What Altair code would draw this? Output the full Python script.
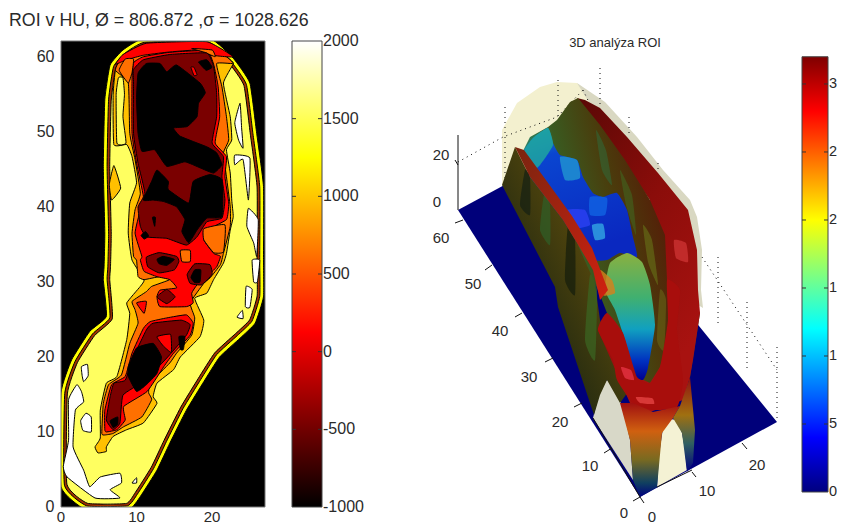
import altair as alt
import numpy as np
import pandas as pd

FONT = "Liberation Sans"
INK = "#2a2a2a"
PALE, AMBER, ORANGE, RED, DARK, BLACK, WHITE = "#ffff60", "#ffc000", "#ff7000", "#ff0000", "#7a0000", "#000000", "#ffffff"

title_left = "ROI v HU, \u00d8 = 806.872 ,\u03c3 = 1028.626"
title_right = "3D anal\u00fdza ROI"
x_tick_values = [0, 10, 20]
y_tick_values = [0, 10, 20, 30, 40, 50, 60]

# ---- contour regions, in axis units (x, y)
silhouette = [(0,2.7),(0,15.2),(1.4,19.6),(3.8,23.4),(6,25.4),(5.6,30.3),(5.7,32),(5.8,36.5),(5.6,45.4),(5.8,54.3),(6.5,58.9),(8.2,60.9),(10.9,62.4),(19.7,62.4),(22.8,59.8),(25,56.5),(25.9,49.8),(26.8,42.7),(26.8,33),(26.8,28),(25.7,24.5),(23.7,22.5),(21,20),(18.9,16.7),(16.6,12.9),(14.4,8.5),(12.7,4.9),(10.5,1.4),(9,-0.3),(3.2,-0.3)]
amber_main = [(4.5,8),(5.2,9.2),(5.2,12.9),(6,16.5),(7.4,17.4),(8.7,22.3),(9.1,25.8),(8.7,27.2),(10.5,29.4),(11,30.3),(9.4,32.9),(8.9,36.5),(9.1,40.5),(10,43.2),(9.4,46.7),(8.7,48.3),(7,48.3),(6.9,55),(7.2,58.2),(8,59.9),(10.5,61.2),(19.3,61.4),(21.9,60),(22.8,59.1),(21.5,56.5),(22.4,52),(22.6,48.9),(21.9,47.6),(22.4,44.5),(22.6,40.9),(22.8,38.7),(22.4,36.9),(21.9,33.8),(21.5,32.5),(20.2,30.3),(19.3,28.5),(17.7,27.8),(18.9,24.9),(18.4,22.7),(15.8,20),(14.9,18.3),(12.7,16.5),(12.2,14.7),(12.7,13.8),(10.9,11.2),(8.7,10.3),(6.9,9.4),(6,8),(6,7.4),(4.9,7.2)]
pale_finger = [(7.4,48.5),(8.6,48.5),(8.2,52),(8.4,55),(8.2,57.2),(7.6,57.2),(7.3,55)]
amber_sliver = [(7,45.5),(7.9,42.5),(6.7,40.9),(6.4,43)]
orange_main = [(5.4,9.8),(5.6,13.8),(6.3,16.3),(8,17.6),(9.1,21.8),(10.2,24.5),(9.8,26.3),(9.4,27.4),(11.3,28.7),(12,29.4),(14.4,30.3),(13.1,30.7),(11,30.3),(10.2,30.7),(10,32.9),(9.6,33.4),(9.4,36.5),(9.8,39.6),(10.5,41.8),(9.8,46.3),(9.1,49.8),(8.9,56.5),(7.2,58.2),(8,59.9),(10.5,61.2),(14.9,61.6),(19.3,61.4),(21.9,60),(22.8,59.1),(20.6,59.1),(21.3,56),(21.9,52),(22.2,48.9),(21.5,47.2),(21.9,44),(22.4,40),(22.4,37.4),(21.5,33.8),(21.1,32.3),(19.7,30.5),(18.9,29.8),(17.1,27.2),(17.7,25.2),(17.3,22.9),(15.3,20.5),(14.4,19.2),(11.8,16.5),(11.6,15.2),(12,14.3),(10.7,12),(8.3,10.7),(6.9,9.8),(5.8,9.6)]
red_lower = [(5.8,10.3),(5.8,12.9),(6.7,16.3),(8.5,17.4),(9.4,20.5),(10.9,23.8),(11.8,24.7),(14,25.2),(16.6,25.6),(17.5,24.5),(17.1,22.9),(14.9,20.5),(13.6,18.7),(11.4,15.4),(8.3,13.4),(8.5,11.6),(7.4,10.3),(6,10)]
red_upper = [(12.7,28),(13.1,28.9),(15.3,29.2),(14.4,30.3),(12.7,30.7),(11,31.4),(10.5,32.9),(10.7,33.4),(9.8,36.5),(10.5,39.6),(10.9,41.4),(10,45.8),(9.4,49.8),(9.4,56.9),(9.6,59.2),(10.9,60),(14.4,60.6),(19.3,60.8),(20.2,59),(20.8,56),(21,52),(20.4,48.5),(21.9,46.7),(21.7,44),(22.2,40.5),(21.9,38.3),(19.3,36.9),(18.9,35.6),(20.2,33.8),(21.1,33.4),(20.6,32),(19.3,30.7),(18,29.6),(17.3,28.5),(17.5,27.2),(16.6,26.7),(13.1,26.7)]
red_cap = [(7.2,59),(8.2,60.3),(11.3,61.8),(19.3,62),(22.8,60),(20,60.2),(18,60.9),(14,60.6),(10.9,60.2),(9.4,59.8),(8.2,59.4)]
orange_cap_left = [(7.7,58.2),(8.5,59.7),(9.6,59.7),(9.4,57.9),(8.9,56.5)]
orange_cap_right = [(17.3,61.1),(20,60.9),(20.4,60),(19,60.6)]
orange_mid = [(15.8,34.2),(17.1,34.2),(17.1,32.7),(16,32.7)]
orange_right = [(18.9,37.1),(21.7,37.6),(21.5,34),(20.2,33.9),(18.9,35.6)]
dark_upper = [(9.6,58.3),(10.9,59.6),(14.4,60.3),(19.3,60.5),(20.2,58.7),(20.6,55.2),(20.6,52),(20,48.5),(21.5,46.7),(21.3,44),(21.7,40.9),(21.3,38.5),(19.3,38),(18,36),(16.6,34.9),(14,35.8),(11.3,36),(10.5,37.4),(10.2,40),(11.1,41.8),(10.2,45.8),(9.6,49.8),(9.6,56.5)]
black_top = [(10.2,57.8),(11.3,59.1),(13.1,59.1),(14,58),(15.3,58.9),(18.4,56.5),(19.1,55.2),(18.2,53.8),(18,52),(16.7,50.7),(14.9,50.5),(15.8,49.4),(19.3,48),(20.6,47.2),(21.3,45.6),(20.2,44.5),(18.4,45.2),(16.4,46),(14,45.4),(12.4,47.6),(10.7,47.4),(10.2,49.8),(10,54.3)]
black_mid = [(10.9,40.9),(12,43.4),(12.7,44.9),(14.2,43.4),(14.2,42.3),(16.9,40.5),(17.5,43.4),(19.7,44.3),(21.3,43.6),(21.3,38.7),(19.3,38.5),(18,36.9),(16.9,35.2),(16,36.7),(16.4,38.3),(15.3,40),(13.6,40.7),(12.2,40.9)]
black_dots = [[(18.2,59.3),(19.3,59.6),(20,58.6),(19.2,58.2)],[(10.6,36.2),(11.2,36.7),(11.6,36.1),(11,35.7)],[(12.1,38.6),(12.5,38.6),(12.4,37.4)]]
red_dot = [(17.2,58.6),(17.6,58.6),(18,57.6),(17.6,57.5)]
dark_blob_a = [(11.3,33.3),(13,33.9),(15.3,33.4),(15.6,32.7),(15,31.6),(13,31.2),(11.5,32)]
black_blob_a = [(12.7,33),(13.5,33.4),(15,33),(14,32.2),(13,32.4)]
dark_blob_b = [(17.1,29.8),(16.7,31),(17.7,32.4),(19.7,32.3),(20,31),(18.6,29.6)]
black_blob_b = [(17.2,30.6),(17.7,31.6),(18.5,31.6),(18.4,30),(17.7,29.9)]
dark_diamond = [(12.7,28),(14,29),(15.1,28),(14,27.1)]
red_patch = [(10,27.2),(11.3,27.4),(11,25.8)]
dark_lower = [(6.5,14.7),(7,16.5),(8.5,16.9),(9.6,20),(11.3,23.6),(12.2,24.5),(15.9,24.9),(17.1,24.3),(16.6,22.9),(14.4,20.3),(13.1,18.9),(10.9,16.7),(8.2,14.9),(7.8,11.2),(6.9,10.3),(6,11.6)]
red_in_dark = [(12.7,22.7),(14.5,23),(14.6,20.6),(13.5,21.5)]
black_big = [(8.9,18.7),(10,21.2),(12.2,21.8),(13.3,20),(12.7,17.8),(11.3,16.3),(10,15.4),(8.9,17.4)]
black_small = [(15.6,22.7),(16.4,22.7),(16.2,21),(15.8,21)]
black_lobe = [(6.5,11.5),(7.5,12),(7.5,11),(6.9,10.6)]
white_islands = [
    [(0.3,5.4),(1,8.9),(1,14.3),(2.1,16.3),(2.7,15.4),(3,14),(1.9,12.9),(1.6,8),(3,4.9),(3.8,2.7),(5.2,4),(7.8,4.5),(8,3.2),(6.5,2.3),(7.8,1.2),(4.5,1.2),(0.8,4)],
    [(2.7,18.7),(3.5,19),(3.6,17.5),(3,16.7),(2.8,17.5)],
    [(2.6,11.5),(3.3,12.5),(4,12),(4,10),(2.9,10.2)],
    [(9.4,3.2),(10,3.9),(10,3.2)],
    [(24.4,26.7),(25,26.6),(25.3,29),(24.5,29.4)],
    [(23.3,25.3),(24,26.2),(24.1,25.1)],
    [(23.7,53.8),(23,51.2),(23.5,48.9),(24.1,47.8),(23.9,50.6)],
    [(23,46.9),(25,46.5),(24.8,40.9),(24.1,46.3),(23,45.6)],
    [(24.8,39.8),(26.1,38.3),(25.9,33.4),(25.5,35.2),(24.6,37.4)],
    [(25.3,32.9),(26.3,32.9),(26,30),(25.5,30)],
]

# ---- colour bars
hot_stops = [(0, "#000000"), (0.375, "#ff0000"), (0.75, "#ffff00"), (1, "#ffffff")]
jet_stops = [(0, "#00007f"), (0.125, "#0000ff"), (0.375, "#00ffff"), (0.625, "#ffff00"), (0.875, "#ff0000"), (1, "#7f0000")]
hu_ticks = [-1000, -500, 0, 500, 1000, 1500, 2000]
hu_labels = ["-1000", "-500", "0", "500", "1000", "1500", "2000"]
height_ticks = [0, 5, 10, 15, 20, 25, 30]
height_labels = ["0", "5", "1", "1", "2", "2", "3"]   # as much of each label as the picture shows

# ---- 3D view, read as drawn on the picture
v_cream = [(502,185),(502,130),(517,103),(540,87),(557,82),(577,83),(600,102),(620,130),(600,200),(540,200)]
v_grey = [(577,83),(605,102),(637,137),(663,170),(690,200),(697,217),(702,250),(701,290),(703,308),(690,300),(640,200),(600,120)]
v_floor = [(458,210),(560,155),(777,422),(640,497)]
v_arch_grey = [(593,418),(598,398),(603,385),(607,380),(612,384),(618,395),(624,412),(630,440),(633,480)]
v_arch_cream = [(657,487),(659,455),(663,428),(670,419),(677,420),(682,433),(685,450),(687,470)]
v_left_wall = [(502,185),(515,147),(530,177),(563,220),(577,243),(593,270),(600,320),(620,367),(633,385),(620,403),(607,380),(600,395),(594,415),(558,307),(555,287)]
v_streaks = [([(520,205),(525,170),(530,178),(530,215)], "#141f12"), ([(540,230),(544,195),(550,205),(550,245)], "#2f5f28"), ([(565,280),(568,225),(575,240),(575,295)], "#141c0c"), ([(585,340),(590,275),(597,290),(595,360)], "#3a6622")]
v_rim = [(577,98),(585,100),(600,108),(627,137),(658,173),(688,210),(697,250),(698,290),(700,313),(693,360),(690,377),(683,400),(650,412),(630,403),(598,330),(607,313),(640,300),(650,200)]
v_inner = [(522,153),(530,137),(548,127),(557,120),(570,102),(578,98),(600,125),(625,160),(650,200),(665,235),(667,280),(670,337),(660,367),(650,383),(637,377),(623,333),(607,313),(598,290),(577,243),(563,220),(530,177)]
v_inner_streaks = [([(596,130),(606,150),(612,185),(602,170)], "#2f6a3a"), ([(620,170),(632,195),(636,235),(626,205)], "#3f6a22"), ([(643,225),(652,240),(658,285),(648,262)], "#6a7a1a"), ([(660,290),(666,300),(664,350),(657,340)], "#6a6a18")]
v_pool = [(523,153),(533,138),(548,128),(553,143),(560,155),(577,160),(583,177),(593,193),(603,197),(617,193),(627,210),(633,237),(637,257),(620,253),(607,260),(593,260),(580,243),(565,220),(547,193),(530,173)]
v_patches = [([(523,153),(533,138),(548,128),(553,145),(540,165),(530,172)], "#1fa5a0"), ([(560,157),(577,160),(580,178),(565,180)], "#2090d0"), ([(590,197),(607,198),(605,215),(590,215)], "#1060e0"), ([(567,210),(585,210),(590,225),(575,228)], "#2a40f0"), ([(592,225),(603,224),(605,238),(595,240)], "#30a0e0")]
v_green = [(610,263),(627,253),(642,262),(650,285),(655,325),(648,368),(643,380),(635,375),(625,340),(615,310),(605,290)]
v_orange = [(600,270),(612,280),(615,293),(603,295)]
v_ridge = [(515,147),(530,177),(563,220),(577,243),(593,270),(600,300),(608,290),(592,248),(572,216),(543,176),(524,150)]
v_u_band = [(607,313),(598,330),(613,360),(617,380),(633,403),(653,410),(677,407),(683,380),(677,330),(680,290),(667,280),(668,320),(660,367),(650,383),(637,377),(623,333)]
v_spots = [([(674,240),(686,243),(688,262),(676,258)], "#c83030"), ([(621,367),(631,370),(634,380),(625,378)], "#e03040"), ([(636,397),(652,398),(654,404),(640,403)], "#e04040")]
v_leg = [(620,403),(633,403),(653,412),(680,406),(673,418),(662,433),(657,487),(640,497),(633,480),(630,440)]
v_strip = [(680,406),(690,377),(695,430),(693,463),(687,472),(682,433),(673,418)]
v_side = [(693,300),(700,313),(690,377),(686,360)]
v_axis_lines = [[(458,135),(458,210)], [(593,418),(640,497)], [(657,487),(692,470)], [(455,160),(458,165)],
                [(455,223),(463,220)], [(485,270),(492,265)], [(515,317),(522,313)], [(545,362),(553,358)], [(574,407),(582,403)], [(604,453),(612,448)], [(633,501),(640,497)],
                [(640,497),(644,503)], [(692,472),(696,477)], [(742,443),(747,449)]]
v_dotted = [[(458,162),(503,137),(557,117),(583,90)], [(505,107),(505,185)], [(558,80),(558,120)], [(600,68),(600,105)], [(583,90),(600,125)],
            [(629,117),(629,137)], [(658,163),(658,173)], [(702,257),(777,370)], [(718,257),(718,323)], [(747,302),(747,370)], [(777,347),(777,422)]]
v_labels = [("20",441,155),("0",437,202),("60",441,238),("50",473,284),("40",500,331),("30",529,377),("20",560,422),("10",590,466),("0",624,513),("0",652,517),("10",707,491),("20",757,465)]


def inset(points, d):
    """Move a closed outline inwards by d axis units."""
    p = np.array(points, float)
    area = 0.5 * np.sum(p[:, 0] * np.roll(p[:, 1], -1) - np.roll(p[:, 0], -1) * p[:, 1])
    sign = -1 if area < 0 else 1
    prev = p - np.roll(p, 1, axis=0)
    nxt = np.roll(p, -1, axis=0) - p
    prev /= np.linalg.norm(prev, axis=1, keepdims=True)
    nxt /= np.linalg.norm(nxt, axis=1, keepdims=True)
    tang = prev + nxt
    tang /= np.linalg.norm(tang, axis=1, keepdims=True)
    normal = np.stack([-tang[:, 1], tang[:, 0]], axis=1) * sign
    return [tuple(v) for v in p + normal * d]


def frame(points, closed=True):
    pts = list(points) + ([points[0]] if closed else [])
    return pd.DataFrame({"x": [a for a, _ in pts], "y": [b for _, b in pts], "i": range(len(pts))})


def gradient(stops, x1=0, y1=1, x2=0, y2=0):
    return alt.Gradient(gradient="linear", x1=x1, y1=y1, x2=x2, y2=y2,
                        stops=[alt.GradientStop(offset=o, color=c) for o, c in stops])


H = 485

# ---------- left contour panel
LX = alt.Scale(domain=[0, 27], nice=False, zero=False)
LY = alt.Scale(domain=[-2.532, 62.1], nice=False, zero=False)
AY = alt.Axis(values=y_tick_values, title=None, grid=False, domain=False, ticks=False, labelPadding=7, labelFont=FONT, labelFontSize=16, labelColor=INK)
PX = alt.X("x:Q", scale=LX, axis=None)
PY = alt.Y("y:Q", scale=LY, axis=AY)


def region(points, fill, width=1.0):
    return alt.Chart(frame(points, closed=False)).mark_line(fill=fill, stroke="#000000", strokeWidth=width, clip=True, interpolate="cardinal-closed", tension=0.6).encode(
        x=PX, y=PY, order="i:Q")


plot_box = alt.Chart(pd.DataFrame({"x": [0], "x2": [27], "y": [0], "y2": [62.1]})).mark_rect(fill="#000000", strokeWidth=0).encode(x=PX, x2="x2:Q", y=PY, y2="y2:Q")
mask_below = alt.Chart(pd.DataFrame({"x": [-1], "x2": [28], "y": [-2.532], "y2": [0]})).mark_rect(fill="#ffffff", strokeWidth=0, clip=True).encode(x=PX, x2="x2:Q", y=PY, y2="y2:Q")
plot_frame = alt.Chart(pd.DataFrame({"x": [0], "x2": [27], "y": [0], "y2": [62.1]})).mark_rect(fillOpacity=0, stroke="#777777", strokeWidth=1).encode(x=PX, x2="x2:Q", y=PY, y2="y2:Q")
x_labels = alt.Chart(pd.DataFrame({"x": x_tick_values, "t": [str(v) for v in x_tick_values]})).mark_text(font=FONT, fontSize=15, color=INK, baseline="top").encode(x=PX, y=alt.value(469), text="t:N")
title_mark = alt.Chart(pd.DataFrame({"t": [title_left]})).mark_text(font=FONT, fontSize=17.8, color=INK, align="left", baseline="middle").encode(x=alt.value(-52), y=alt.value(-20), text="t:N")

left_layers = [plot_box,
               region(silhouette, "#ffff00"),
               region(inset(silhouette, 0.5), "#a03000"),
               region(inset(silhouette, 0.85), PALE),
               region(amber_main, AMBER), region(pale_finger, PALE), region(amber_sliver, AMBER),
               region(orange_main, ORANGE), region(red_lower, RED), region(red_upper, RED), region(red_cap, RED),
               region(orange_cap_left, ORANGE), region(orange_cap_right, ORANGE), region(orange_right, ORANGE),
               region(dark_upper, DARK), region(black_top, BLACK), region(black_mid, BLACK), region(red_dot, RED)]
left_layers += [region(p, BLACK) for p in black_dots]
left_layers += [region(orange_mid, ORANGE), region(dark_blob_a, DARK), region(black_blob_a, BLACK), region(dark_blob_b, DARK), region(black_blob_b, BLACK),
                region(dark_diamond, DARK), region(red_patch, RED), region(dark_lower, DARK), region(red_in_dark, RED), region(black_big, BLACK),
                region(black_small, BLACK), region(black_lobe, BLACK)]
left_layers += [region(p, WHITE) for p in white_islands]
left_layers += [mask_below, plot_frame, x_labels, title_mark]

left = alt.layer(*left_layers).properties(width=204, height=H)


# ---------- colour bars
def colorbar(stops, lo, hi, dom, ticks, labels, w, panel_w, size, clip):
    sc = alt.Scale(domain=dom, nice=False, zero=False)
    Y = alt.Y("t:Q", scale=sc, axis=None)
    bar = alt.Chart(pd.DataFrame({"t": [lo], "b": [hi]})).mark_rect(fill=gradient(stops), stroke="#444444", strokeWidth=1).encode(
        y=Y, y2="b:Q", x=alt.value(0), x2=alt.value(w))
    tk = pd.DataFrame({"t": [t for t in ticks if lo < t < hi]})
    t1 = alt.Chart(tk).mark_rule(color="#333333").encode(y=Y, x=alt.value(0), x2=alt.value(4))
    t2 = alt.Chart(tk).mark_rule(color="#333333").encode(y=Y, x=alt.value(w - 4), x2=alt.value(w))
    names = pd.DataFrame({"t": ticks, "s": labels})
    txt = alt.Chart(names).mark_text(font=FONT, fontSize=size, color=INK, align="left", baseline="middle", clip=clip).encode(
        y=Y, x=alt.value(w + 1), text="s:N")
    return alt.layer(bar, t1, t2, txt).properties(width=panel_w, height=H)


cb1 = colorbar(hot_stops, -1000, 2000, [-1122.3, 2000], hu_ticks, hu_labels, 30, 30, 16, False)
cb2 = colorbar(jet_stops, 0, 32, [-2.5, 33.16], height_ticks, height_labels, 26, 35, 14.5, True)

# ---------- 3D view
VX = alt.Scale(domain=[349, 775], nice=False, zero=False)
VY = alt.Scale(domain=[526, 41], nice=False, zero=False)


def shape(points, fill, opacity=1, smooth=False):
    if smooth:
        mark = alt.Chart(frame(points, closed=False)).mark_line(fill=fill, stroke="transparent", strokeWidth=0, fillOpacity=opacity, interpolate="cardinal-closed", tension=0.5)
    else:
        mark = alt.Chart(frame(points)).mark_line(fill=fill, stroke="transparent", strokeWidth=0, fillOpacity=opacity)
    return mark.encode(x=alt.X("x:Q", scale=VX, axis=None), y=alt.Y("y:Q", scale=VY, axis=None), order="i:Q")


def stroke_line(points, dash=None):
    kw = {"strokeDash": dash} if dash else {}
    return alt.Chart(frame(points, closed=False)).mark_line(color="#111111", strokeWidth=1, **kw).encode(
        x=alt.X("x:Q", scale=VX, axis=None), y=alt.Y("y:Q", scale=VY, axis=None), order="i:Q")


def label(rows, size):
    df = pd.DataFrame(rows, columns=["t", "x", "y"])
    return alt.Chart(df).mark_text(font=FONT, fontSize=size, color=INK).encode(
        x=alt.X("x:Q", scale=VX, axis=None), y=alt.Y("y:Q", scale=VY, axis=None), text="t:N")


d_layers = [shape(v_cream, "#f3f0cf"), shape(v_grey, "#d9d8c2"), shape(v_floor, "#00007a"),
            shape(v_arch_grey, "#d8d8c8"), shape(v_arch_cream, "#f4f2d4")]
d_layers += [stroke_line(p, [1, 4]) for p in v_dotted]
d_layers += [shape(v_side, "#2a4a30"),
             shape(v_left_wall, gradient([(0, "#06122e"), (0.35, "#2a2e10"), (0.7, "#5a4a0c"), (1, "#7a3008")], 0, 1, 1, 0))]
d_layers += [shape(p, c, 0.7, True) for p, c in v_streaks]
d_layers += [shape(v_rim, gradient([(0, "#5a0806"), (0.5, "#8b0d0a"), (1, "#a81210")], 0, 0, 0.5, 1)),
             shape(v_inner, gradient([(0, "#5a1006"), (0.45, "#4a3c0c"), (0.75, "#3a5a20"), (1, "#2a8a70")], 1, 0.2, 0.2, 0.6))]
d_layers += [shape(p, c, 0.55, True) for p, c in v_inner_streaks]
d_layers += [shape(v_pool, gradient([(0, "#18a0b0"), (0.25, "#0a45d0"), (1, "#0a28c0")], 0, 0, 0.3, 1), smooth=True)]
d_layers += [shape(p, c, 0.85, True) for p, c in v_patches]
d_layers += [shape(v_green, gradient([(0, "#8ab040"), (0.35, "#40b070"), (0.6, "#10a0c0"), (0.85, "#0030c0"), (1, "#000090")], 0, 0, 0, 1), smooth=True),
             shape(v_orange, "#d8801a", 0.8, True),
             shape(v_ridge, gradient([(0, "#7a2510"), (1, "#d02010")], 0, 0, 1, 1)),
             shape(v_u_band, "#a80e0c", smooth=True)]
d_layers += [shape(p, c, 0.85, True) for p, c in v_spots]
d_layers += [shape(v_leg, gradient([(0, "#a01010"), (0.3, "#d06010"), (0.6, "#7a6a20"), (0.85, "#104060"), (1, "#000080")], 0, 0, 0, 1)),
             shape(v_strip, gradient([(0, "#901010"), (0.4, "#a07010"), (0.7, "#306060"), (1, "#000080")], 0, 0, 0, 1))]
d_layers += [stroke_line(p) for p in v_axis_lines]
d_layers += [label(v_labels, 15), label([(title_right, 615, 43)], 13)]
view3d = alt.layer(*d_layers).properties(width=426, height=H)

chart = alt.hconcat(left, cb1, view3d, cb2, spacing=27, bounds="flush").properties(
    padding={"left": 1, "top": 4, "right": 0, "bottom": 0}
).configure_view(stroke=None)

chart.save("out.html", embed_options={"renderer": "svg", "actions": False})
